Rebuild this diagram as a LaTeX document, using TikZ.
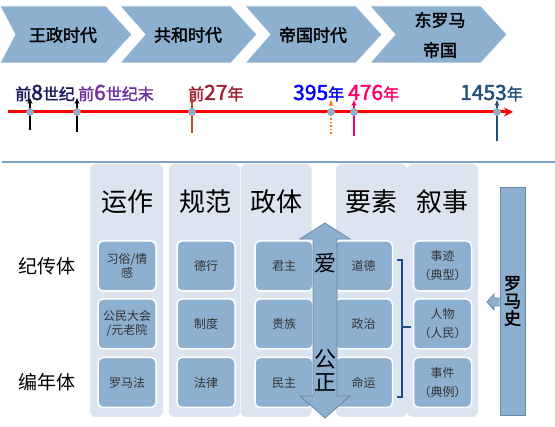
\documentclass[tikz,border=0pt]{standalone}
\usepackage{fontspec}
\setmainfont{Noto Sans CJK SC}[AutoFakeBold=2]
\usetikzlibrary{arrows.meta}

\definecolor{eraBlue}{RGB}{141,175,208}
\definecolor{panelGrey}{RGB}{220,228,239}
\definecolor{edgeBlue}{RGB}{105,135,168}
\definecolor{braceBlue}{RGB}{31,78,140}
\definecolor{sepBlue}{RGB}{127,163,200}
\definecolor{cNavy}{RGB}{25,25,95}
\definecolor{cPurple}{RGB}{112,48,160}
\definecolor{cMaroon}{RGB}{160,30,50}
\definecolor{cPink}{RGB}{255,0,102}
\definecolor{cSteel}{RGB}{31,78,121}
\definecolor{cBrown}{RGB}{175,80,40}
\definecolor{cOrange}{RGB}{237,125,49}

\newcommand{\dg}[1]{{\fontsize{21}{21}\selectfont #1}}

\begin{document}
\begin{tikzpicture}[x=1pt, y=-1pt,
    era/.style    = {fill=eraBlue, draw=white, line width=0.8},
    eratext/.style= {font=\fontsize{17}{30}\selectfont\bfseries, align=center},
    yearlab/.style= {font=\fontsize{16}{16}\selectfont\bfseries, anchor=base west, inner sep=0},
    marker/.style = {circle, fill=eraBlue, draw=gray!70, line width=0.6, minimum size=7, inner sep=0},
    arr/.style    = {-{Stealth[length=6,width=5]}, line width=1.5},
    panel/.style  = {fill=panelGrey, rounded corners=6, minimum width=71, minimum height=253, inner sep=0},
    heading/.style= {font=\fontsize{26}{30}\selectfont},
    rowlab/.style = {font=\fontsize{19}{22}\selectfont},
    cell/.style   = {fill=eraBlue, draw=white, line width=1.5, rounded corners=5,
                     minimum width=58, minimum height=50, inner sep=0, align=center,
                     text=black!80, font=\fontsize{12}{14}\selectfont},
    bigarrow/.style = {fill=eraBlue, draw=edgeBlue, line width=0.8},
]
\useasboundingbox (0,0) rectangle (555,427);

% --- Eras (chevrons) ---
\foreach \x/\d/\w in {0/15/106, 120/25/111, 245/25/111, 370/25/111}
  \draw[era] (\x,6) -- (\x+\w,6) -- (\x+\w+26,34.5) -- (\x+\w,63) -- (\x,63) -- (\x+\d,34.5) -- cycle;
\node[eratext] (e1) at (63,35)  {王政时代};
\node[eratext] (e2) at (188,35) {共和时代};
\node[eratext] (e3) at (313,35) {帝国时代};
\node[eratext] (e4) at (440,35) {东罗马\\帝国};

% --- Timeline labels ---
\node[yearlab, text=cNavy]   (l1) at (15,100)  {前\dg{8}世纪};
\node[yearlab, text=cPurple] (l2) at (78,100)  {前\dg{6}世纪末};
\node[yearlab, text=cMaroon] (l3) at (188,100) {前\dg{27}年};
\node[yearlab, text=blue]    (l4) at (293,100) {\dg{395}年};
\node[yearlab, text=cPink]   (l5) at (348,100) {\dg{476}年};
\node[yearlab, text=cSteel]  (l6) at (460,100) {\dg{1453}年};

% --- Arrow ends ---
\foreach \n/\x/\yb/\yt in {1/30/130/98, 2/77/132/98, 3/192/133/97, 4/331/134/100, 5/354/136/100, 6/497/141/100} {
  \coordinate (b\n) at (\x,\yb);
  \coordinate (t\n) at (\x,\yt);
}
\draw[arr, black]   (b1) -- (t1);
\draw[arr, black]   (b2) -- (t2);
\draw[arr, cBrown]  (b3) -- (t3);
\draw[arr, cOrange, dotted] (b4) -- (t4);
\draw[arr, cPink]   (b5) -- (t5);
\draw[arr, cSteel]  (b6) -- (t6);

% --- Timeline axis ---
\coordinate (tlS) at (8,112);
\coordinate (tlE) at (513,112);
\draw[red, line width=3, -{Stealth[length=9,width=9]}] (tlS) -- (tlE);
\foreach \n/\x in {1/30, 2/77, 3/192, 4/331, 5/354, 6/497}
  \node[marker] (p\n) at (\x,112) {};

% --- Separator ---
\coordinate (sepL) at (2,162);
\coordinate (sepR) at (555,162);
\draw[sepBlue, line width=2] (sepL) -- (sepR);

% --- Panels ---
\node[panel, minimum width=73] (pa1) at (126.5,290.5) {};
\node[panel] (pa2) at (204.5,290.5) {};
\node[panel] (pa3) at (276,290.5) {};
\node[panel] (pa4) at (371.5,290.5) {};
\node[panel] (pa5) at (442.5,290.5) {};

% --- Headings ---
\node[heading] (h1) at (127,202) {运作};
\node[heading] (h2) at (205,202) {规范};
\node[heading] (h3) at (276,202) {政体};
\node[heading] (h4) at (371,202) {要素};
\node[heading] (h5) at (442,202) {叙事};

% --- Row labels ---
\node[rowlab] (r1) at (47,266) {纪传体};
\node[rowlab] (r2) at (47,382) {编年体};

% --- Cells ---
\node[cell] (c11) at (127,266)   {习俗/情\\感};
\node[cell] (c12) at (127,324)   {公民大会\\/元老院};
\node[cell] (c13) at (127,382.5) {罗马法};
\node[cell] (c21) at (206,266)   {德行};
\node[cell] (c22) at (206,324)   {制度};
\node[cell] (c23) at (206,382.5) {法律};
\node[cell] (c31) at (284,266)   {君主};
\node[cell] (c32) at (284,324)   {贵族};
\node[cell] (c33) at (284,382.5) {民主};
\node[cell] (c41) at (363.5,266)   {道德};
\node[cell] (c42) at (363.5,324)   {政治};
\node[cell] (c43) at (363.5,382.5) {命运};
\node[cell] (c51) at (442.5,266)   {事迹\\[5pt]（典型）};
\node[cell] (c52) at (442.5,324)   {人物\\[5pt]（人民）};
\node[cell] (c53) at (442.5,382.5) {事件\\[5pt]（典例）};

% --- Double arrow ---
\draw[bigarrow] (325,223) -- (350,239) -- (337,239) -- (337,396) -- (350,396) -- (325,418)
  -- (300,396) -- (313,396) -- (313,239) -- (300,239) -- cycle;
\node[font=\fontsize{22}{24}\selectfont] (ai) at (325,263) {爱};
\node[font=\fontsize{22}{23}\selectfont, align=center] (gz) at (325,370) {公\\正};

% --- Brace ---
\coordinate (brT) at (397,260);
\coordinate (brB) at (397,397);
\coordinate (brM) at (411,327);
\draw[braceBlue, line width=2.5] (brT) -- (402,260) -- (402,397) -- (brB);
\draw[braceBlue, line width=2.5] (402,327) -- (brM);

% --- Roman history ---
\node[fill=eraBlue, draw=edgeBlue, line width=0.8, minimum width=25, minimum height=228,
      inner sep=0, align=center, font=\fontsize{17}{17.5}\selectfont\bfseries] (shi) at (512.5,301) {罗\\马\\史};
\draw[bigarrow] (shi.west |- 0,298) -- (494,298) -- (494,294) -- (487,302) -- (494,310) -- (494,306) -- (shi.west |- 0,306);

\end{tikzpicture}
\end{document}
